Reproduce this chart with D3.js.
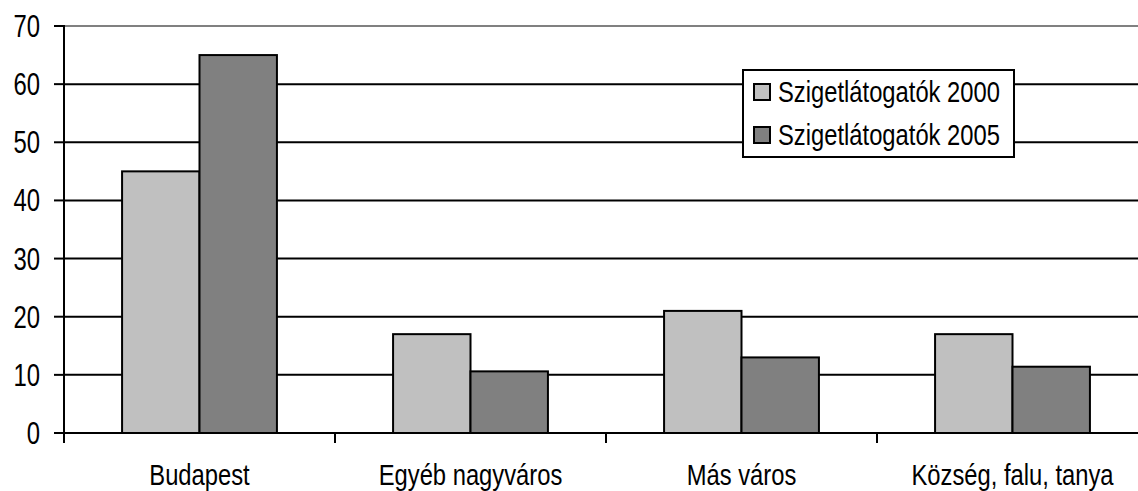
<!DOCTYPE html>
<html lang="hu">
<head>
<meta charset="utf-8">
<script src="https://d3js.org/d3.v7.min.js"></script>
<style>
  body { margin: 0; background: #fff; }
  svg text { font-family: "Liberation Sans", Arial, sans-serif; font-size: 29px; fill: #000; }
</style>
</head>
<body>
<div class="chartDiv"></div>
<script>
var categories = ["Budapest", "Egyéb nagyváros", "Más város", "Község, falu, tanya"];
var seriesNames = ["Szigetlátogatók 2000", "Szigetlátogatók 2005"];
var values2000 = [45, 17, 21, 17];
var values2005 = [65, 10.6, 13, 11.4];
var yTicks = [0, 10, 20, 30, 40, 50, 60, 70];
var colors = ["#c0c0c0", "#808080"];

var w = 1138, h = 491;
var plotLeft = 64, plotRight = 1148, plotTop = 26, plotBottom = 433;
var narrow = 0.82; // squeeze Liberation Sans to look like Arial Narrow

var svg = d3.select(".chartDiv").append("svg")
  .attr("width", w)
  .attr("height", h);

var y = d3.scaleLinear().domain([0, 70]).range([plotBottom, plotTop]);
var x = d3.scaleBand().domain(categories).range([plotLeft, plotRight]);
var x1 = d3.scaleBand().domain(seriesNames).range([0, x.bandwidth()]).paddingOuter(0.75);

var data = categories.map(function(c, i) {
  return { cat: c, vals: [values2000[i], values2005[i]] };
});

// gridlines (top one is the grey border)
svg.selectAll("line.grid")
  .data(yTicks.filter(function(d) { return d > 0; }))
  .enter().append("line")
  .attr("class", "grid")
  .attr("x1", plotLeft).attr("x2", plotRight)
  .attr("y1", function(d) { return y(d); })
  .attr("y2", function(d) { return y(d); })
  .attr("stroke", function(d) { return d === 70 ? "#808080" : "#000"; })
  .attr("stroke-width", 2);

// bars
var groups = svg.selectAll("g.cat")
  .data(data)
  .enter().append("g")
  .attr("transform", function(d) { return "translate(" + x(d.cat) + ",0)"; });

groups.selectAll("rect")
  .data(function(d) { return d.vals.map(function(v, i) { return { name: seriesNames[i], v: v, i: i }; }); })
  .enter().append("rect")
  .attr("x", function(d) { return x1(d.name); })
  .attr("width", x1.bandwidth())
  .attr("y", function(d) { return y(d.v); })
  .attr("height", function(d) { return y(0) - y(d.v); })
  .attr("fill", function(d) { return colors[d.i]; })
  .attr("stroke", "#000")
  .attr("stroke-width", 2);

// y axis
var gy = svg.append("g");
gy.append("line")
  .attr("x1", plotLeft).attr("x2", plotLeft)
  .attr("y1", plotTop - 1).attr("y2", plotBottom + 10)
  .attr("stroke", "#000").attr("stroke-width", 2);
gy.selectAll("line.tk")
  .data(yTicks)
  .enter().append("line")
  .attr("class", "tk")
  .attr("x1", plotLeft - 10).attr("x2", plotLeft)
  .attr("y1", function(d) { return y(d); })
  .attr("y2", function(d) { return y(d); })
  .attr("stroke", "#000").attr("stroke-width", 2);
gy.selectAll("text")
  .data(yTicks)
  .enter().append("text")
  .attr("transform", function(d) { return "translate(40," + (y(d) + 11) + ") scale(0.77,1)"; })
  .attr("text-anchor", "end")
  .style("font-size", "31px")
  .text(function(d) { return d; });

// x axis
var gx = svg.append("g").attr("transform", "translate(0," + plotBottom + ")");
gx.append("line").attr("x1", plotLeft - 10).attr("x2", plotRight).attr("stroke", "#000").attr("stroke-width", 2);
var boundaries = categories.map(function(c) { return x(c); }).concat([plotRight]);
gx.selectAll("line.tk")
  .data(boundaries)
  .enter().append("line")
  .attr("class", "tk")
  .attr("x1", function(d) { return d; }).attr("x2", function(d) { return d; })
  .attr("y1", 0).attr("y2", 10)
  .attr("stroke", "#000").attr("stroke-width", 2);
gx.selectAll("text")
  .data(categories)
  .enter().append("text")
  .attr("transform", function(d) { return "translate(" + (x(d) + x.bandwidth() / 2) + ",52) scale(" + narrow + ",1)"; })
  .attr("text-anchor", "middle")
  .text(function(d) { return d; });

// legend
var legend = svg.append("g").attr("transform", "translate(743,70)");
legend.append("rect")
  .attr("width", 271).attr("height", 87)
  .attr("fill", "#fff").attr("stroke", "#000").attr("stroke-width", 2);
var items = legend.selectAll("g.item")
  .data(seriesNames)
  .enter().append("g")
  .attr("transform", function(d, i) { return "translate(0," + (i * 43) + ")"; });
items.append("rect")
  .attr("x", 11).attr("y", 14)
  .attr("width", 16).attr("height", 16)
  .attr("fill", function(d, i) { return colors[i]; })
  .attr("stroke", "#000").attr("stroke-width", 2);
items.append("text")
  .attr("transform", "translate(35,32) scale(" + narrow + ",1)")
  .text(function(d) { return d; });
</script>
</body>
</html>
